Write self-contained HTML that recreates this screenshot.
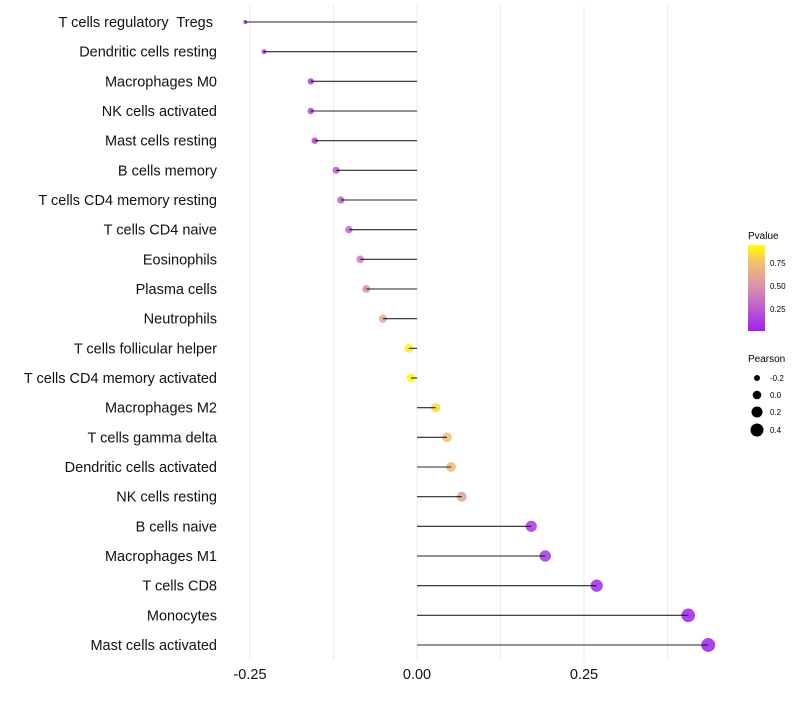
<!DOCTYPE html>
<html><head><meta charset="utf-8"><style>
body{margin:0;background:#fff}
svg text{font-family:"Liberation Sans",sans-serif;white-space:pre}
</style></head><body>
<svg id="chart" width="800" height="700">
<defs>
<linearGradient id="pgrad" x1="0" y1="1" x2="0" y2="0">
<stop offset="0" stop-color="#A020F0"/>
<stop offset="0.5" stop-color="#D890B0"/>
<stop offset="0.8" stop-color="#F5C070"/>
<stop offset="1" stop-color="#FFFF00"/>
</linearGradient>
</defs>
<g id="grid"></g>
<g id="marks"></g>
<g id="ylabels"></g>
<g id="xlabels"></g>
<g>
<text x="748" y="239" font-size="10">Pvalue</text>
<rect x="748" y="245" width="17" height="86" fill="url(#pgrad)"/>
<text x="770" y="266" font-size="8">0.75</text>
<text x="770" y="289" font-size="8">0.50</text>
<text x="770" y="312" font-size="8">0.25</text>
</g>
<g>
<text x="748" y="362" font-size="10">Pearson</text>
<circle cx="757" cy="378" r="3" fill="#000"/><text x="770" y="381" font-size="8">-0.2</text>
<circle cx="757" cy="395" r="4.3" fill="#000"/><text x="770" y="398" font-size="8">0.0</text>
<circle cx="757" cy="412" r="5.5" fill="#000"/><text x="770" y="415" font-size="8">0.2</text>
<circle cx="757" cy="430" r="6.5" fill="#000"/><text x="770" y="433" font-size="8">0.4</text>
</g>
</svg>
<script>
const categories=["T cells regulatory  Tregs ","Dendritic cells resting","Macrophages M0","NK cells activated","Mast cells resting","B cells memory","T cells CD4 memory resting","T cells CD4 naive","Eosinophils","Plasma cells","Neutrophils","T cells follicular helper","T cells CD4 memory activated","Macrophages M2","T cells gamma delta","Dendritic cells activated","NK cells resting","B cells naive","Macrophages M1","T cells CD8","Monocytes","Mast cells activated"];
const pearson=[-0.257,-0.229,-0.159,-0.159,-0.153,-0.121,-0.114,-0.102,-0.085,-0.076,-0.051,-0.012,-0.009,0.028,0.045,0.051,0.067,0.171,0.192,0.269,0.406,0.436];
const pvalues=[0.02,0.04,0.15,0.15,0.17,0.25,0.28,0.33,0.42,0.5,0.65,0.95,0.97,0.88,0.78,0.75,0.6,0.1,0.08,0.03,0.001,0.001];
const xTicks=[-0.25,0,0.25];
const xTickLabels=["-0.25","0.00","0.25"];
const NS="http://www.w3.org/2000/svg";
const x=v=>417+v*668;
const y=i=>22+i*(623/21);
const rad=v=>Math.sqrt(Math.max(2,4+64.3*(v+0.257)));
function lerp(a,b,t){return a.map((c,k)=>Math.round(c+(b[k]-c)*t));}
const stops=[[0,[160,32,240]],[0.5,[216,144,176]],[0.8,[245,192,112]],[1,[255,255,0]]];
function col(p){for(let k=1;k<stops.length;k++){if(p<=stops[k][0]){const t=(p-stops[k-1][0])/(stops[k][0]-stops[k-1][0]);const c=lerp(stops[k-1][1],stops[k][1],t);return`rgb(${c})`;}}return"rgb(255,255,0)";}
function mk(t,a,parent){const e=document.createElementNS(NS,t);for(const k in a)e.setAttribute(k,a[k]);parent.appendChild(e);return e;}
const grid=document.getElementById('grid'),marks=document.getElementById('marks'),yl=document.getElementById('ylabels'),xl=document.getElementById('xlabels');
for(let g=-0.25;g<=0.38;g+=0.125){const l=mk('line',{x1:x(g),x2:x(g),y1:5,y2:660,stroke:"#ebebeb","stroke-width":1},grid);

}
categories.forEach((c,i)=>{
const cy=y(i);
const pt=mk('circle',{cx:x(pearson[i]),cy:cy,r:rad(pearson[i]),fill:col(pvalues[i]),"fill-opacity":0.85},marks);


const ln=mk('line',{x1:x(0),x2:x(pearson[i]),y1:cy,y2:cy,stroke:"#000","stroke-width":1.1,"stroke-opacity":0.85},marks);


const t=mk('text',{x:217,y:cy+5,"text-anchor":"end","font-size":14.5,fill:"#111"},yl);
t.textContent=c;


});
xTicks.forEach((v,i)=>{const t=mk('text',{x:x(v),y:679,"text-anchor":"middle","font-size":14.5,fill:"#111"},xl);
t.textContent=xTickLabels[i];

});
</script>
</body></html>
